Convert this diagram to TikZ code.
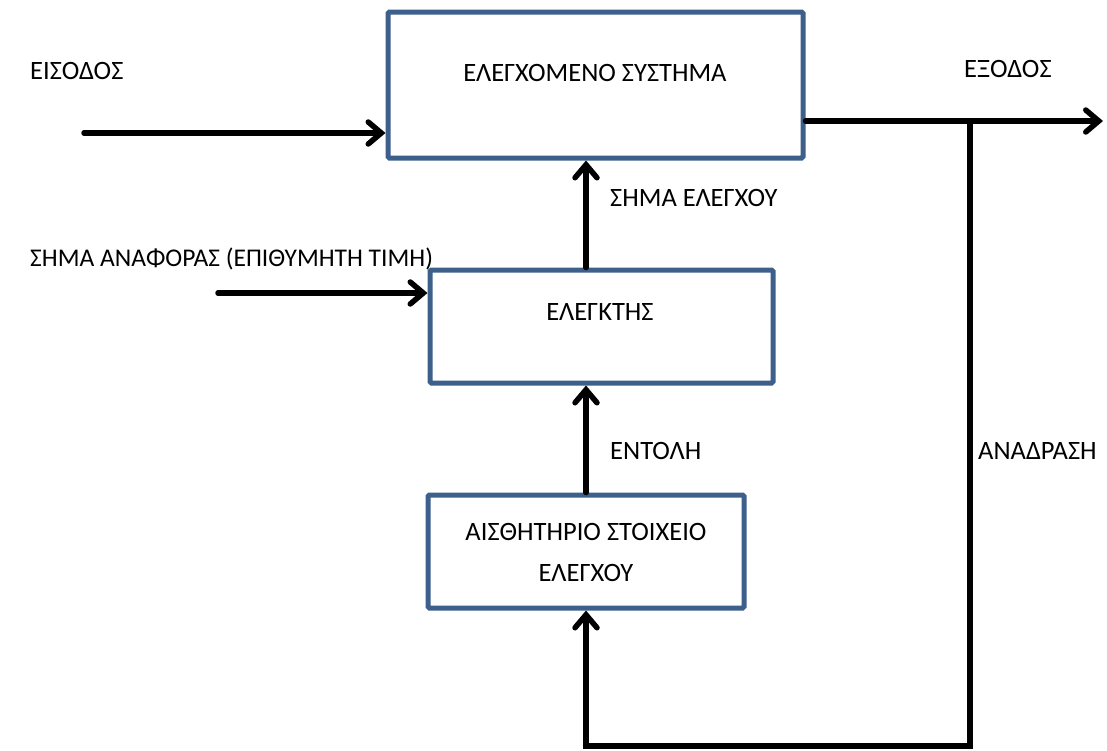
\documentclass[tikz,border=0pt]{standalone}
\usepackage{fontspec}
\setmainfont{Carlito}
\usetikzlibrary{arrows.meta}
\definecolor{boxblue}{RGB}{60,95,140}
\tikzset{
  blockbox/.style={draw=boxblue, line width=5pt, rounded corners=1.5pt, fill=white, inner sep=0pt},
  txt/.style={font=\fontsize{26.5}{41}\selectfont, inner sep=0pt},
  flow/.style={line width=5.5pt, line cap=round, line join=miter,
    -{Straight Barb[length=13pt, width=22pt, line width=5.5pt, line cap=round]}},
  wire/.style={line width=5.5pt, line cap=rect}
}
\begin{document}
\begin{tikzpicture}[x=1pt,y=-1pt]
  \useasboundingbox (0,0) rectangle (1107,750);

  % blocks
  \node[blockbox, minimum width=415pt, minimum height=146pt] (plant) at (595.5,85) {};
  \node[blockbox, minimum width=343pt, minimum height=113pt] (ctrl) at (601.5,326.5) {};
  \node[blockbox, minimum width=316pt, minimum height=113pt] (sensor) at (586,551.5) {};

  % block texts
  \node[txt] (plantT) at (595,73) {ΕΛΕΓΧΟΜΕΝΟ ΣΥΣΤΗΜΑ};
  \node[txt] (ctrlT) at (600,312) {ΕΛΕΓΚΤΗΣ};
  \node[txt, align=center] (sensorT) at (586,552) {ΑΙΣΘΗΤΗΡΙΟ ΣΤΟΙΧΕΙΟ\\ΕΛΕΓΧΟΥ};

  % free labels
  \node[txt, anchor=west] (inT) at (30,71) {ΕΙΣΟΔΟΣ};
  \node[txt, anchor=west] (outT) at (964,69) {ΕΞΟΔΟΣ};
  \node[txt, anchor=west, font=\fontsize{25.5}{30}\selectfont] (refT) at (30,259) {ΣΗΜΑ ΑΝΑΦΟΡΑΣ (ΕΠΙΘΥΜΗΤΗ ΤΙΜΗ)};
  \node[txt, anchor=west] (ctlsigT) at (610,198) {ΣΗΜΑ ΕΛΕΓΧΟΥ};
  \node[txt, anchor=west] (cmdT) at (610,451) {ΕΝΤΟΛΗ};
  \node[txt, anchor=west] (fbT) at (978,451) {ΑΝΑΔΡΑΣΗ};

  % connector end points
  \coordinate (inL) at (84,133);
  \coordinate (refL) at (218,293);
  \coordinate (outR) at (1103,121);
  \coordinate (tap) at (970,121);
  \coordinate (fbB) at (970,746);

  % connectors
  \draw[flow] (inL) -- (inL -| plant.west);
  \draw[flow] (refL) -- (refL -| ctrl.west);
  \draw[flow] (plant.east |- outR) -- (outR);
  \draw[flow] (sensor.north) -- (sensor.north |- ctrl.south);
  \draw[flow] (sensor.north |- ctrl.north) -- (sensor.north |- plant.south);
  \draw[wire] (tap) -- (fbB) -- (fbB -| sensor.south);
  \draw[flow] (fbB -| sensor.south) -- (sensor.south);
\end{tikzpicture}
\end{document}
